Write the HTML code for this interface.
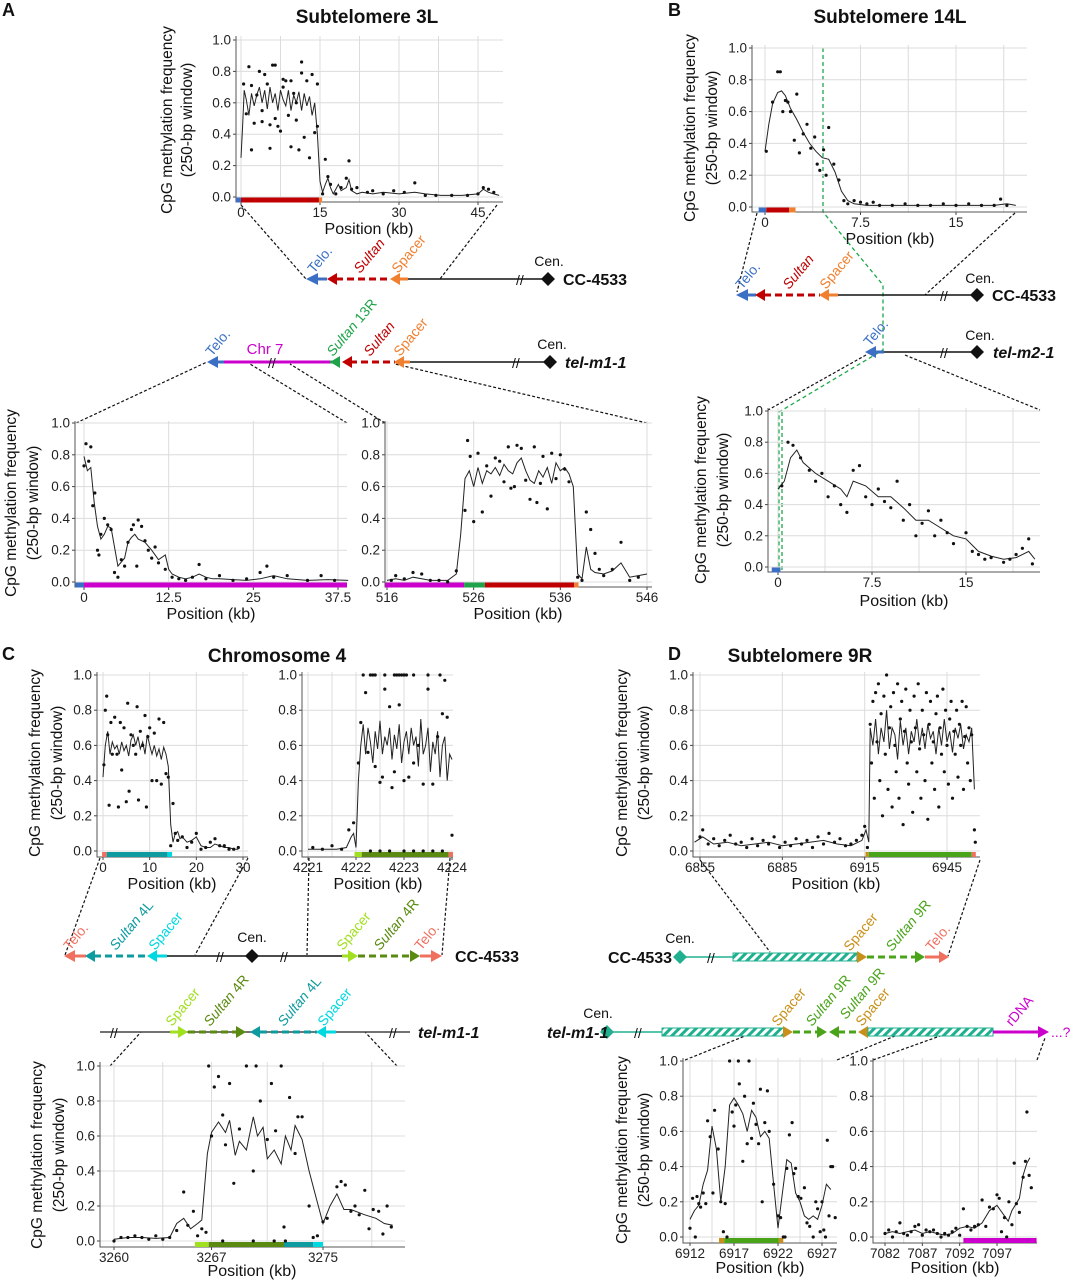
<!DOCTYPE html>
<html><head><meta charset="utf-8">
<style>
html,body{margin:0;padding:0;background:#fff;}
svg{display:block;font-family:"Liberation Sans",Arial,sans-serif;}
.tl{font-size:19px;font-weight:bold;fill:#111;}
.pl{font-size:18px;font-weight:bold;fill:#111;}
.al{font-size:16px;fill:#111;}
.yl{font-size:15.5px;fill:#111;}
.dl{font-size:14px;}
.nm{font-size:16px;font-weight:bold;fill:#111;}
.cen{font-size:14px;fill:#111;}
</style></head>
<body>
<svg id="fig" width="1073" height="1280" viewBox="0 0 1073 1280" xmlns="http://www.w3.org/2000/svg">
<defs>
<pattern id="hatch" width="6" height="6" patternUnits="userSpaceOnUse" patternTransform="rotate(45)">
<rect width="6" height="6" fill="#fff"/><rect width="3" height="6" fill="#20b090"/>
</pattern>
</defs>
<text class="pl" x="2" y="16">A</text>
<text class="pl" x="668" y="16">B</text>
<text class="pl" x="2" y="660">C</text>
<text class="pl" x="668" y="660">D</text>
<text class="tl" x="367" y="23" text-anchor="middle">Subtelomere 3L</text>
<text class="tl" x="890" y="23" text-anchor="middle">Subtelomere 14L</text>
<text class="tl" x="277" y="662" text-anchor="middle">Chromosome 4</text>
<text class="tl" x="800" y="662" text-anchor="middle">Subtelomere 9R</text>

<g class="yl" text-anchor="middle">
<text transform="translate(172,120) rotate(-90)">CpG methylation frequency</text>
<text transform="translate(192,120) rotate(-90)">(250-bp window)</text>
<text transform="translate(695,128) rotate(-90)">CpG methylation frequency</text>
<text transform="translate(717,128) rotate(-90)">(250-bp window)</text>
<text transform="translate(16,503) rotate(-90)">CpG methylation frequency</text>
<text transform="translate(38,503) rotate(-90)">(250-bp window)</text>
<text transform="translate(706,490) rotate(-90)">CpG methylation frequency</text>
<text transform="translate(728,490) rotate(-90)">(250-bp window)</text>
<text transform="translate(40,763) rotate(-90)">CpG methylation frequency</text>
<text transform="translate(62,763) rotate(-90)">(250-bp window)</text>
<text transform="translate(627,763) rotate(-90)">CpG methylation frequency</text>
<text transform="translate(649,763) rotate(-90)">(250-bp window)</text>
<text transform="translate(42,1155) rotate(-90)">CpG methylation frequency</text>
<text transform="translate(64,1155) rotate(-90)">(250-bp window)</text>
<text transform="translate(627,1150) rotate(-90)">CpG methylation frequency</text>
<text transform="translate(649,1150) rotate(-90)">(250-bp window)</text>
</g>
<g class="al" text-anchor="middle">
<text x="369" y="234">Position (kb)</text>
<text x="890" y="244">Position (kb)</text>
<text x="211" y="619">Position (kb)</text>
<text x="518" y="619">Position (kb)</text>
<text x="904" y="606">Position (kb)</text>
<text x="172" y="889">Position (kb)</text>
<text x="378" y="889">Position (kb)</text>
<text x="836" y="889">Position (kb)</text>
<text x="252" y="1276">Position (kb)</text>
<text x="760" y="1273">Position (kb)</text>
<text x="955" y="1273">Position (kb)</text>
</g>

<g stroke="#111" stroke-width="1.2" stroke-dasharray="3,2" fill="none">
<line x1="241" y1="205" x2="306" y2="279"/><line x1="497" y1="205" x2="440" y2="279"/>
<line x1="76" y1="423" x2="207" y2="362"/><line x1="347" y1="423" x2="250" y2="364"/>
<line x1="385" y1="423" x2="290" y2="364"/><line x1="647" y1="423" x2="395" y2="364"/>
<line x1="757" y1="213" x2="737" y2="292"/><line x1="1015" y1="213" x2="925" y2="295"/>
<line x1="866" y1="355" x2="768" y2="410"/><line x1="905" y1="355" x2="1040" y2="410"/>
<line x1="100" y1="858" x2="65" y2="955"/><line x1="248" y1="858" x2="195" y2="955"/>
<line x1="309" y1="858" x2="307" y2="955"/><line x1="450" y1="858" x2="442" y2="955"/>
<line x1="110" y1="1066" x2="141" y2="1032"/><line x1="397" y1="1066" x2="365" y2="1032"/>
<line x1="700" y1="860" x2="770" y2="952"/><line x1="980" y1="860" x2="948" y2="956"/>
<line x1="685" y1="1060" x2="745" y2="1036"/><line x1="837" y1="1060" x2="895" y2="1036"/>
<line x1="873" y1="1060" x2="940" y2="1036"/><line x1="1037" y1="1060" x2="1045" y2="1038"/>
</g>
<polyline points="823,48 823,212 883,285 883,350 779,412 779,572" fill="none" stroke="#1aa84a" stroke-width="1.3" stroke-dasharray="4,3"/>
<line x1="782" y1="412" x2="782" y2="572" stroke="#1aa84a" stroke-width="1.3" stroke-dasharray="4,3"/>

<g>
<line x1="408" y1="279" x2="548" y2="279" stroke="#111" stroke-width="1.5"/>
<line x1="316" y1="279" x2="327" y2="279" stroke="#3b6fc4" stroke-width="3"/><polygon points="306,279 318,273 318,285" fill="#3b6fc4"/>
<line x1="336" y1="279" x2="390" y2="279" stroke="#c00000" stroke-width="3" stroke-dasharray="7,4"/><polygon points="327,279 337,273 337,285" fill="#c00000"/>
<line x1="398" y1="279" x2="408" y2="279" stroke="#f08030" stroke-width="3"/><polygon points="390,279 400,273 400,285" fill="#f08030"/>
<text x="516" y="285" font-size="14" fill="#111">//</text>
<polygon points="548,272 555,279 548,286 541,279" fill="#111"/>
</g>
<text class="cen" x="549" y="266" text-anchor="middle">Cen.</text>
<text class="nm" x="563" y="285">CC-4533</text>
<text class="dl" fill="#3b6fc4" transform="translate(314,274) rotate(-50)">Telo.</text>
<text class="dl" fill="#c00000" font-style="italic" transform="translate(360,274) rotate(-50)">Sultan</text>
<text class="dl" fill="#f08030" transform="translate(398,274) rotate(-50)">Spacer</text>

<g>
<line x1="410" y1="362" x2="550" y2="362" stroke="#111" stroke-width="1.5"/>
<line x1="216" y1="362" x2="224" y2="362" stroke="#3b6fc4" stroke-width="3"/><polygon points="207,362 218,356 218,368" fill="#3b6fc4"/>
<line x1="224" y1="362" x2="330" y2="362" stroke="#cc00cc" stroke-width="3"/>
<text x="268" y="368" font-size="14" fill="#111">//</text>
<line x1="330" y1="362" x2="340" y2="362" stroke="#1fa34a" stroke-width="3"/><polygon points="330,362 340,356 340,368" fill="#1fa34a"/>
<line x1="350" y1="362" x2="395" y2="362" stroke="#c00000" stroke-width="3" stroke-dasharray="7,4"/><polygon points="342,362 352,356 352,368" fill="#c00000"/>
<line x1="402" y1="362" x2="410" y2="362" stroke="#f08030" stroke-width="3"/><polygon points="394,362 404,356 404,368" fill="#f08030"/>
<text x="512" y="368" font-size="14" fill="#111">//</text>
<polygon points="550,355 557,362 550,369 543,362" fill="#111"/>
</g>
<text font-size="15" fill="#cc00cc" x="265" y="354" text-anchor="middle">Chr 7</text>
<text class="cen" x="552" y="349" text-anchor="middle">Cen.</text>
<text class="nm" font-style="italic" x="565" y="368">tel-m1-1</text>
<text class="dl" fill="#3b6fc4" transform="translate(212,357) rotate(-50)">Telo.</text>
<text class="dl" fill="#1fa34a" transform="translate(333,357) rotate(-50)"><tspan font-style="italic">Sultan</tspan> 13R</text>
<text class="dl" fill="#c00000" font-style="italic" transform="translate(370,357) rotate(-50)">Sultan</text>
<text class="dl" fill="#f08030" transform="translate(400,357) rotate(-50)">Spacer</text>

<g>
<line x1="837" y1="295" x2="977" y2="295" stroke="#111" stroke-width="1.5"/>
<line x1="745" y1="295" x2="756" y2="295" stroke="#3b6fc4" stroke-width="3"/><polygon points="736,295 748,289 748,301" fill="#3b6fc4"/>
<line x1="764" y1="295" x2="820" y2="295" stroke="#c00000" stroke-width="3" stroke-dasharray="7,4"/><polygon points="755,295 765,289 765,301" fill="#c00000"/>
<line x1="828" y1="295" x2="838" y2="295" stroke="#f08030" stroke-width="3"/><polygon points="819,295 829,289 829,301" fill="#f08030"/>
<text x="940" y="301" font-size="14" fill="#111">//</text>
<polygon points="977,288 984,295 977,302 970,295" fill="#111"/>
<line x1="883" y1="352" x2="977" y2="352" stroke="#111" stroke-width="1.5"/>
<line x1="874" y1="352" x2="884" y2="352" stroke="#3b6fc4" stroke-width="3"/><polygon points="865,352 876,346 876,358" fill="#3b6fc4"/>
<text x="940" y="358" font-size="14" fill="#111">//</text>
<polygon points="977,345 984,352 977,359 970,352" fill="#111"/>
</g>
<text class="cen" x="980" y="283" text-anchor="middle">Cen.</text>
<text class="nm" x="992" y="301">CC-4533</text>
<text class="cen" x="980" y="340" text-anchor="middle">Cen.</text>
<text class="nm" font-style="italic" x="993" y="358">tel-m2-1</text>
<text class="dl" fill="#3b6fc4" transform="translate(742,290) rotate(-50)">Telo.</text>
<text class="dl" fill="#c00000" font-style="italic" transform="translate(789,290) rotate(-50)">Sultan</text>
<text class="dl" fill="#f08030" transform="translate(826,290) rotate(-50)">Spacer</text>
<text class="dl" fill="#3b6fc4" transform="translate(870,347) rotate(-50)">Telo.</text>

<g>
<line x1="167" y1="956" x2="342" y2="956" stroke="#111" stroke-width="1.5"/>
<line x1="72" y1="956" x2="86" y2="956" stroke="#f07060" stroke-width="3"/><polygon points="64,956 75,950 75,962" fill="#f07060"/>
<line x1="94" y1="956" x2="148" y2="956" stroke="#0d9ba0" stroke-width="3" stroke-dasharray="7,4"/><polygon points="85,956 95,950 95,962" fill="#0d9ba0"/>
<line x1="156" y1="956" x2="167" y2="956" stroke="#00d8e0" stroke-width="3"/><polygon points="147,956 157,950 157,962" fill="#00d8e0"/>
<text x="216" y="962" font-size="14" fill="#111">//</text>
<polygon points="252,949 259,956 252,963 245,956" fill="#111"/>
<text x="280" y="962" font-size="14" fill="#111">//</text>
<line x1="342" y1="956" x2="350" y2="956" stroke="#a0e020" stroke-width="3"/><polygon points="358,956 348,950 348,962" fill="#a0e020"/>
<line x1="358" y1="956" x2="412" y2="956" stroke="#5a8a10" stroke-width="3" stroke-dasharray="7,4"/><polygon points="420,956 410,950 410,962" fill="#5a8a10"/>
<line x1="420" y1="956" x2="434" y2="956" stroke="#f07060" stroke-width="3"/><polygon points="442,956 431,950 431,962" fill="#f07060"/>
<line x1="100" y1="1032" x2="410" y2="1032" stroke="#444" stroke-width="1.5"/>
<text x="110" y="1038" font-size="14" fill="#111">//</text>
<text x="389" y="1038" font-size="14" fill="#111">//</text>
<line x1="170" y1="1032" x2="180" y2="1032" stroke="#a0e020" stroke-width="3"/><polygon points="188,1032 178,1026 178,1038" fill="#a0e020"/>
<line x1="188" y1="1032" x2="238" y2="1032" stroke="#5a8a10" stroke-width="3" stroke-dasharray="7,4"/><polygon points="246,1032 236,1026 236,1038" fill="#5a8a10"/>
<line x1="260" y1="1032" x2="317" y2="1032" stroke="#0d9ba0" stroke-width="3" stroke-dasharray="7,4"/><polygon points="250,1032 260,1026 260,1038" fill="#0d9ba0"/>
<line x1="326" y1="1032" x2="336" y2="1032" stroke="#00d8e0" stroke-width="3"/><polygon points="316,1032 326,1026 326,1038" fill="#00d8e0"/>
</g>
<text class="cen" x="252" y="942" text-anchor="middle">Cen.</text>
<text class="nm" x="455" y="962">CC-4533</text>
<text class="nm" font-style="italic" x="418" y="1038">tel-m1-1</text>
<text class="dl" fill="#f07060" transform="translate(70,951) rotate(-50)">Telo.</text>
<text class="dl" fill="#0d9ba0" transform="translate(116,951) rotate(-50)"><tspan font-style="italic">Sultan</tspan> 4L</text>
<text class="dl" fill="#00d8e0" transform="translate(155,951) rotate(-50)">Spacer</text>
<text class="dl" fill="#a0e020" transform="translate(343,951) rotate(-50)">Spacer</text>
<text class="dl" fill="#5a8a10" transform="translate(380,951) rotate(-50)"><tspan font-style="italic">Sultan</tspan> 4R</text>
<text class="dl" fill="#f07060" transform="translate(421,951) rotate(-50)">Telo.</text>
<text class="dl" fill="#a0e020" transform="translate(172,1027) rotate(-50)">Spacer</text>
<text class="dl" fill="#5a8a10" transform="translate(210,1027) rotate(-50)"><tspan font-style="italic">Sultan</tspan> 4R</text>
<text class="dl" fill="#0d9ba0" transform="translate(284,1027) rotate(-50)"><tspan font-style="italic">Sultan</tspan> 4L</text>
<text class="dl" fill="#00d8e0" transform="translate(324,1027) rotate(-50)">Spacer</text>

<g>
<line x1="680" y1="957" x2="733" y2="957" stroke="#20b090" stroke-width="1.5"/>
<polygon points="680,950 687,957 680,964 673,957" fill="#20b090"/>
<text x="707" y="963" font-size="14" fill="#111">//</text>
<rect x="733" y="953" width="124" height="8" fill="url(#hatch)" stroke="#20b090" stroke-width="1"/>
<line x1="857" y1="957" x2="862" y2="957" stroke="#c8901a" stroke-width="3"/><polygon points="867,957 857,951 857,963" fill="#c8901a"/>
<line x1="867" y1="957" x2="918" y2="957" stroke="#4aa41a" stroke-width="3" stroke-dasharray="7,4"/><polygon points="925,957 915,951 915,963" fill="#4aa41a"/>
<line x1="925" y1="957" x2="942" y2="957" stroke="#f07060" stroke-width="3"/><polygon points="949,957 939,951 939,963" fill="#f07060"/>
<line x1="607" y1="1032" x2="662" y2="1032" stroke="#20b090" stroke-width="1.5"/>
<polygon points="607,1025 614,1032 607,1039 600,1032" fill="#20b090"/>
<text x="634" y="1038" font-size="14" fill="#111">//</text>
<rect x="662" y="1028" width="123" height="8" fill="url(#hatch)" stroke="#20b090" stroke-width="1"/>
<line x1="785" y1="1032" x2="788" y2="1032" stroke="#c8901a" stroke-width="3"/><polygon points="793,1032 783,1026 783,1038" fill="#c8901a"/>
<line x1="793" y1="1032" x2="822" y2="1032" stroke="#4aa41a" stroke-width="3" stroke-dasharray="7,4"/><polygon points="827,1032 817,1026 817,1038" fill="#4aa41a"/>
<line x1="838" y1="1032" x2="858" y2="1032" stroke="#4aa41a" stroke-width="3" stroke-dasharray="7,4"/><polygon points="829,1032 839,1026 839,1038" fill="#4aa41a"/>
<polygon points="858,1032 868,1026 868,1038" fill="#c8901a"/>
<rect x="868" y="1028" width="125" height="8" fill="url(#hatch)" stroke="#20b090" stroke-width="1"/>
<line x1="993" y1="1032" x2="1040" y2="1032" stroke="#cc00cc" stroke-width="3"/><polygon points="1049,1032 1038,1026 1038,1038" fill="#cc00cc"/>
</g>
<text class="cen" x="680" y="943" text-anchor="middle">Cen.</text>
<text class="nm" x="608" y="963">CC-4533</text>
<text class="cen" x="598" y="1018" text-anchor="middle">Cen.</text>
<text class="nm" font-style="italic" x="547" y="1038">tel-m1-1</text>
<text font-size="14" fill="#cc00cc" x="1051" y="1037">...?</text>
<text class="dl" fill="#c8901a" transform="translate(850,952) rotate(-50)">Spacer</text>
<text class="dl" fill="#4aa41a" transform="translate(892,952) rotate(-50)"><tspan font-style="italic">Sultan</tspan> 9R</text>
<text class="dl" fill="#f07060" transform="translate(932,952) rotate(-50)">Telo.</text>
<text class="dl" fill="#c8901a" transform="translate(778,1027) rotate(-50)">Spacer</text>
<text class="dl" fill="#4aa41a" transform="translate(812,1027) rotate(-50)"><tspan font-style="italic">Sultan</tspan> 9R</text>
<text class="dl" fill="#4aa41a" transform="translate(846,1020) rotate(-50)"><tspan font-style="italic">Sultan</tspan> 9R</text>
<text class="dl" fill="#c8901a" transform="translate(862,1027) rotate(-50)">Spacer</text>
<text class="dl" fill="#cc00cc" transform="translate(1012,1027) rotate(-50)">rDNA</text>

<g id="plots"></g>
</svg>

<script>
const a1LineX=[0,0.3,0.6,1,1.5,2,2.5,3,3.5,4,4.5,5,5.5,6,6.5,7,7.5,8,8.5,9,9.5,10,10.5,11,11.5,12,12.5,13,13.5,14,14.5,15,15.5,16,16.5,17,17.5,18,18.5,19,20,20.5,21,22,23,25,27,30,33,35,38,42,45,46,47,48,49];
const a1LineY=[.25,.45,.68,.62,.52,.66,.58,.65,.7,.6,.68,.56,.7,.6,.66,.55,.68,.62,.58,.68,.55,.65,.6,.67,.55,.66,.58,.64,.52,.6,.4,.1,.03,.08,.12,.06,.02,.05,.08,.04,.06,.11,.04,.02,.03,.02,.03,.02,.03,.02,.01,.01,.02,.05,.03,.02,.01];
const a1DotX=[0.5,1,1.5,2,2,2.5,3,3.5,4,4,4.5,5,5.5,5.5,6,6.5,6.5,7,7.5,8,8,8.5,9,9.5,9.5,10,10.5,10.5,11,11.5,11.5,12,12.5,13,13.5,14,14.5,14.5,15.5,16,16.5,17,18,19,20,20.5,21,22,24,25,27,29,31,33,35,37,40,43,45,46,47,48];
const a1DotY=[.72,.53,.83,.3,.71,.47,.65,.8,.55,.48,.78,.72,.46,.31,.84,.84,.5,.45,.42,.75,.7,.74,.52,.74,.32,.66,.49,.6,.3,.86,.79,.38,.74,.25,.78,.41,.72,.45,.02,.24,.13,.08,.02,.06,.12,.23,.05,.06,.03,.04,.02,.04,.03,.09,.01,.01,.01,.01,.02,.06,.05,.03];
const a1SegStart=[-1.2,0,14.8], a1SegEnd=[0,14.8,15.4], a1SegColor=['#3b6fc4','#c00000','#f08030'];

const a2LineX=[0,0.5,1,1.5,2,2.5,3,3.5,4,5,6,6.5,7,7.5,8,9,10,11,12,12.5,13,14,15,16,17,18,19,20,22,24,26,28,30,33,36,39];
const a2LineY=[.79,.7,.72,.5,.35,.27,.3,.35,.34,.1,.15,.25,.28,.3,.27,.25,.2,.14,.17,.08,.05,.03,.02,.03,.05,.03,.02,.02,.015,.01,.02,.04,.02,.01,.015,.01];
const a2DotX=[0,0.3,0.7,1,1.3,1.6,2,2.2,2.5,3,3.5,4,4.5,5,5.5,6,6.5,7,7.3,7.8,8,8.5,9,9.5,10,10.5,11,12,13,14,15,16,17,18,20,22,24,26,27,28,30,33,35,37];
const a2DotY=[.73,.87,.76,.85,.48,.56,.2,.17,.3,.4,.36,.33,.06,.03,.14,.1,.25,.33,.36,.1,.39,.35,.26,.2,.15,.22,.12,.08,.03,.02,.01,.03,.11,.02,.04,.01,.02,.06,.1,.03,.04,.01,.04,.01];
const a2SegStart=[-1.3,0], a2SegEnd=[0,39.6], a2SegColor=['#3b6fc4','#cc00cc'];

const a3LineX=[516,517,518,519,520,521,522,523,524,524.5,525,525.5,526,526.5,527,527.5,528,528.5,529,529.5,530,530.5,531,531.5,532,532.5,533,533.5,534,534.5,535,535.5,536,536.5,537,537.5,538,538.5,539,539.5,540,541,542,543,544,545,546];
const a3LineY=[.01,.02,.01,.03,.02,.01,.01,.01,.05,.3,.65,.7,.6,.72,.62,.7,.68,.72,.67,.74,.7,.68,.75,.78,.7,.64,.62,.7,.66,.72,.62,.75,.7,.72,.68,.6,.05,.02,.22,.08,.06,.05,.07,.12,.03,.04,.05];
const a3DotX=[516.5,517,518,519,520,521,522,523,524,525,525.3,525.6,526,526.5,527,527.5,528,528.5,529,529.5,530,530.3,530.7,531,531.5,532,532.5,533,533.3,533.7,534,534.5,535,535.5,536,536.5,537,538,538.5,539,539.5,540,540.5,541,542,543,544,545];
const a3DotY=[.01,.04,.02,.06,.05,.01,.01,0,.07,.45,.89,.79,.38,.81,.44,.73,.54,.78,.76,.63,.85,.59,.6,.86,.84,.64,.52,.85,.5,.62,.79,.46,.81,.65,.8,.71,.63,.03,.01,.44,.33,.18,.08,.04,.08,.25,.01,.03];
const a3SegStart=[515.8,524.9,527.3,537.6], a3SegEnd=[524.9,527.3,537.6,538.1], a3SegColor=['#cc00cc','#1fa34a','#c00000','#f08030'];

const b1LineX=[0,0.3,0.6,1,1.3,1.6,2,2.5,3,3.5,4,4.5,5,5.5,6,6.5,7,8,9,10,12,14,16,18,19,19.7];
const b1LineY=[.35,.52,.65,.72,.73,.7,.62,.55,.47,.4,.35,.31,.3,.22,.1,.04,.02,.01,.01,.01,.01,.01,.01,.01,.02,.01];
const b1DotX=[0.1,0.6,1,1.2,1.4,1.6,1.8,2,2.3,2.5,2.7,3,3.3,3.6,3.9,4.1,4.3,4.6,4.8,5,5.4,5.8,6.2,6.5,7,7.5,8,8.5,9,10,11,12,13,14,15,16,17,18,18.5,19];
const b1DotY=[.35,.66,.85,.85,.6,.67,.66,.6,.42,.71,.34,.46,.52,.37,.44,.27,.23,.36,.2,.5,.27,.17,.04,.02,.04,.03,.02,.03,.01,.01,.02,.01,.01,.02,.01,.02,.01,.01,.05,.01];
const b1SegStart=[-0.5,0.1,1.9], b1SegEnd=[0.1,1.9,2.4], b1SegColor=['#3b6fc4','#c00000','#f08030'];

const b2LineX=[0,0.5,1,1.5,2,3,4,5,5.5,6,7,8,9,10,11,12,13,14,15,16,17,18,19,20,20.5];
const b2LineY=[.5,.55,.7,.75,.67,.6,.55,.5,.45,.55,.52,.45,.45,.38,.3,.3,.25,.2,.18,.1,.07,.05,.06,.1,.05];
const b2DotX=[0.3,0.8,1.2,1.8,2.5,3,3.5,4,4.5,5,5.5,6,6.5,7,7.5,8,8.5,9,9.5,10,10.5,11,11.5,12,12.5,13,13.5,14,15,15.5,16,16.5,17,18,18.5,19,19.5,20,20.3];
const b2DotY=[.52,.8,.78,.7,.62,.55,.6,.45,.52,.4,.35,.62,.65,.45,.4,.5,.42,.38,.55,.3,.4,.2,.28,.36,.2,.3,.22,.15,.22,.1,.08,.05,.06,.03,.05,.08,.12,.18,.02];
const b2SegStart=[-0.5], b2SegEnd=[0.2], b2SegColor=['#3b6fc4'];

const c1LineX=[0,0.5,1,1.5,2,2.5,3,3.5,4,4.5,5,5.5,6,6.5,7,7.5,8,8.5,9,9.5,10,10.5,11,11.5,12,12.5,13,13.5,14,14.5,15,15.5,16,16.5,17,18,19,20,21,22,23,24,25,26,27,28,29];
const c1LineY=[.42,.6,.68,.55,.62,.58,.6,.55,.62,.57,.6,.54,.63,.66,.6,.65,.58,.62,.55,.66,.6,.55,.6,.54,.58,.52,.59,.55,.48,.15,.05,.1,.11,.07,.08,.05,.06,.08,.03,.02,.02,.04,.03,.02,.02,.01,.01];
const c1DotX=[0.2,0.5,0.8,1,1.3,1.7,2,2.5,3,3.3,3.7,4,4.5,5,5.3,5.6,6,6.5,7,7.3,7.6,8,8.5,9,9.3,9.6,10,10.5,11,11.5,12,12.5,13,13.5,14,14.5,15,15.5,16,17,18,19,20,21,22,23,24,25,26,27,28,29];
const c1DotY=[.49,.8,.88,.66,.26,.73,.55,.76,.55,.25,.73,.46,.7,.28,.84,.34,.66,.6,.55,.82,.29,.68,.6,.77,.25,.65,.7,.4,.67,.4,.75,.38,.73,.44,.42,.03,.27,.1,.06,.08,.02,.05,.1,.01,.02,.05,.07,.03,.03,.01,.01,.02];
const c1SegStart=[-0.2,0.8,13.8], c1SegEnd=[0.8,13.8,14.8], c1SegColor=['#f07060','#0d9ba0','#00d8e0'];

const c2LineX=[4221,4221.2,4221.4,4221.6,4221.8,4221.9,4221.95,4222,4222.05,4222.1,4222.15,4222.2,4222.25,4222.3,4222.35,4222.4,4222.45,4222.5,4222.55,4222.6,4222.65,4222.7,4222.75,4222.8,4222.85,4222.9,4222.95,4223,4223.05,4223.1,4223.15,4223.2,4223.25,4223.3,4223.35,4223.4,4223.45,4223.5,4223.55,4223.6,4223.65,4223.7,4223.75,4223.8,4223.85,4223.9,4223.95,4224];
const c2LineY=[.01,.01,.01,.01,.02,.08,.1,.02,.4,.6,.72,.55,.7,.62,.5,.68,.58,.74,.55,.65,.6,.7,.52,.66,.58,.72,.5,.62,.68,.55,.7,.6,.65,.48,.75,.55,.6,.7,.45,.62,.55,.68,.42,.6,.65,.4,.55,.52];
const c2DotX=[4222.15,4222.3,4222.35,4222.4,4222.6,4222.8,4222.85,4222.9,4222.95,4223,4223.05,4223.2,4223.5,4223.75,4223.85,4221.1,4221.3,4221.5,4221.7,4221.85,4221.95,4222.05,4222.1,4222.2,4222.25,4222.4,4222.5,4222.55,4222.6,4222.7,4222.75,4222.8,4222.9,4223,4223.1,4223.2,4223.3,4223.4,4223.5,4223.6,4223.7,4223.8,4223.9,4224,4222.3,4222.5,4222.7,4223,4223.2,4223.4,4223.6,4223.8];
const c2DotY=[1,1,1,1,1,1,1,1,1,1,1,1,1,1,.97,.02,.01,.03,.01,.12,.16,.5,.73,.9,.56,.48,.39,.42,.92,.82,.36,.45,.83,.4,.42,.5,.6,.38,.92,.38,.65,.78,.76,.09,0,0,0,0,0,0,0,0];
const c2SegStart=[4221.97,4222.12,4223.93], c2SegEnd=[4222.12,4223.93,4224.05], c2SegColor=['#a0e020','#5a8a10','#f07060'];

const c3LineX=[3260,3261,3262,3263,3264,3264.5,3265,3265.5,3266,3266.3,3266.7,3267,3267.5,3268,3268.3,3268.7,3269,3269.5,3270,3270.3,3270.7,3271,3271.5,3272,3272.3,3272.7,3273,3273.5,3274,3274.5,3275,3275.5,3276,3276.5,3277,3278,3278.8,3279.4,3280];
const c3LineY=[.01,.02,.02,.015,.02,.1,.13,.07,.1,.12,.5,.62,.68,.62,.69,.49,.57,.52,.71,.6,.65,.47,.52,.44,.6,.52,.66,.58,.4,.25,.1,.2,.27,.18,.18,.15,.13,.1,.09];
const c3DotX=[3260,3260.5,3261,3261.5,3262,3262.5,3263,3263.5,3264,3264.5,3265,3265.3,3265.7,3266,3266.3,3266.6,3266.8,3267,3267.2,3267.5,3267.8,3268,3268.3,3268.6,3269,3269.5,3270,3270.2,3270.5,3271,3271.3,3271.6,3272,3272.2,3272.6,3273,3273.2,3273.5,3274,3274.3,3274.6,3275,3275.3,3276,3276.3,3276.6,3277,3277.3,3277.6,3278,3278.3,3278.6,3279,3279.3,3279.6,3279.9,3267.8,3270,3271.5,3272.3];
const c3DotY=[0,.02,.02,.03,.02,.01,.03,.01,.02,.06,.28,.09,.17,.03,.07,.05,1,.6,.88,.94,.72,.55,.9,.33,.64,1,.4,1,.8,.58,.9,.63,1,.08,.82,.5,.71,.71,.2,.02,.03,.11,.13,.31,.34,.32,.17,.2,.15,.29,.07,.18,.17,.04,.2,.08,0,0,0,0];
const c3SegStart=[3265.8,3266.8,3272.2,3274.3], c3SegEnd=[3266.8,3272.2,3274.3,3275], c3SegColor=['#a0e020','#5a8a10','#0d9ba0','#00d8e0'];

const d1LineX=[6853,6856,6860,6865,6870,6875,6880,6885,6890,6895,6900,6905,6910,6914,6915.5,6916.5,6917,6918,6919,6920,6921,6922,6923,6924,6925,6926,6927,6928,6929,6930,6931,6932,6933,6934,6935,6936,6937,6938,6939,6940,6941,6942,6943,6944,6945,6946,6947,6948,6949,6950,6951,6952,6953,6954,6955];
const d1LineY=[.05,.08,.04,.05,.03,.04,.05,.03,.04,.05,.06,.04,.03,.06,.12,.05,.7,.6,.75,.55,.7,.62,.8,.58,.7,.66,.52,.74,.6,.7,.55,.68,.62,.75,.6,.7,.58,.72,.64,.68,.55,.7,.6,.75,.62,.68,.56,.7,.64,.72,.58,.66,.62,.7,.35];
const d1DotX=[6855,6856,6858,6860,6862,6864,6866,6868,6870,6872,6874,6876,6878,6880,6882,6884,6886,6888,6890,6892,6894,6896,6898,6900,6902,6904,6906,6908,6910,6912,6914,6915,6916,6917,6917.5,6918,6918.5,6919,6919.5,6920,6920.5,6921,6921.5,6922,6922.5,6923,6923.5,6924,6924.5,6925,6925.5,6926,6926.5,6927,6927.5,6928,6928.5,6929,6929.5,6930,6930.5,6931,6931.5,6932,6932.5,6933,6933.5,6934,6934.5,6935,6935.5,6936,6936.5,6937,6937.5,6938,6938.5,6939,6939.5,6940,6940.5,6941,6941.5,6942,6942.5,6943,6943.5,6944,6944.5,6945,6945.5,6946,6946.5,6947,6947.5,6948,6948.5,6949,6949.5,6950,6950.5,6951,6951.5,6952,6952.5,6953,6953.5,6954,6955,6955.3];
const d1DotY=[.08,.12,.04,.07,.03,.06,.09,.04,.05,.02,.07,.03,.06,.04,.08,.02,.05,.03,.07,.04,.06,.02,.08,.04,.1,.05,.07,.03,.04,.06,.09,.14,.02,.72,.5,.85,.3,.9,.62,.95,.4,.78,.2,.88,.55,1,.35,.7,.82,.25,.9,.6,.45,.95,.3,.75,.85,.15,.68,.92,.5,.38,.8,.62,.22,.88,.7,.45,.95,.58,.3,.8,.66,.4,.9,.18,.72,.85,.5,.62,.35,.78,.88,.25,.7,.55,.92,.45,.8,.6,.38,.75,.85,.3,.68,.55,.8,.42,.72,.6,.85,.35,.65,.82,.5,.7,.4,.66,.12,.05];
const d1SegStart=[6915.3,6916.5,6954], d1SegEnd=[6916.5,6954,6955.5], d1SegColor=['#c8901a','#4aa41a','#f07060'];

const d2LineX=[6912,6912.5,6913,6913.5,6914,6914.5,6915,6915.5,6916,6916.5,6917,6917.5,6918,6918.5,6919,6919.5,6920,6920.5,6921,6921.5,6922,6922.5,6923,6923.5,6924,6924.5,6925,6925.5,6926,6926.5,6927,6927.5,6928];
const d2LineY=[.1,.15,.18,.3,.38,.63,.5,.2,.4,.75,.79,.75,.7,.6,.72,.68,.57,.6,.56,.3,.05,.25,.44,.42,.25,.2,.12,.1,.12,.1,.18,.3,.27];
const d2DotX=[6912,6912.3,6912.6,6912.8,6913,6913.2,6913.5,6913.8,6914,6914.3,6914.6,6914.8,6915.2,6915.5,6915.8,6916,6916.2,6916.5,6916.8,6917,6917.2,6917.5,6917.6,6918,6918.2,6918.5,6918.7,6919,6919.2,6919.5,6919.8,6920,6920.2,6920.5,6920.8,6921,6921.5,6922,6922.3,6922.6,6922.8,6923,6923.3,6923.6,6923.8,6924,6924.3,6924.6,6925,6925.3,6925.6,6926,6926.3,6926.5,6926.8,6927,6927.2,6927.4,6927.6,6927.8,6928,6928.2,6928.5];
const d2DotY=[.05,.22,0,.23,.19,.17,.25,.19,.66,.57,.25,.72,.5,.2,.03,.19,0,1,.71,.63,.75,1,.87,.43,.8,.53,1,.56,.76,.64,.53,.84,.2,.65,.83,.6,.3,.12,.11,0,0,.39,.58,.65,.36,.39,.23,.22,.28,.08,.06,0,.2,.16,.03,.2,.04,0,.55,.12,.4,.4,.11];
const d2SegStart=[6915.3,6915.9,6922.1], d2SegEnd=[6915.9,6922.1,6922.6], d2SegColor=['#c8901a','#4aa41a','#c8901a'];

const d3LineX=[7082,7083,7084,7085,7086,7087,7088,7089,7090,7091,7092,7093,7094,7095,7096,7097,7097.5,7098,7098.5,7099,7100,7100.5,7101,7101.4];
const d3LineY=[.02,.03,.02,.03,.04,.02,.03,.02,.01,.02,.05,.06,.05,.08,.15,.18,.15,.12,.09,.15,.22,.35,.42,.45];
const d3DotX=[7082,7082.5,7083,7083.5,7084,7084.5,7085,7085.5,7086,7086.5,7087,7087.5,7088,7088.5,7089,7089.5,7090,7090.5,7091,7091.5,7092,7092.5,7093,7093.5,7094,7094.5,7095,7095.5,7096,7096.5,7097,7097.3,7097.6,7098,7098.3,7098.6,7099,7099.3,7099.6,7100,7100.5,7100.8,7101,7101.3,7101.6];
const d3DotY=[.02,.04,0,.03,.08,.02,.01,.03,.06,.07,.01,.04,.03,.04,.02,0,.02,.01,.03,.05,.01,.16,.06,.04,.06,.07,.21,.06,.17,.16,.24,.22,.03,.11,0,.2,.07,.42,.19,.14,.34,.43,.71,.35,.28];
const d3SegStart=[7092.5], d3SegEnd=[7102.3], d3SegColor=['#cc00cc'];

const tickA1=[0,15,30,45], tickA1Labels=['0','15','30','45'];
const tickA2=[0,12.5,25,37.5], tickA2Labels=['0','12.5','25','37.5'];
const tickA3=[516,526,536,546], tickA3Labels=['516','526','536','546'];
const tickB=[0,7.5,15], tickBLabels=['0','7.5','15'];
const tickC1=[0,10,20,30], tickC1Labels=['0','10','20','30'];
const tickC2=[4221,4222,4223,4224], tickC2Labels=['4221','4222','4223','4224'];
const tickC3=[3260,3267,3275], tickC3Labels=['3260','3267','3275'];
const tickD1=[6855,6885,6915,6945], tickD1Labels=['6855','6885','6915','6945'];
const tickD2=[6912,6917,6922,6927], tickD2Labels=['6912','6917','6922','6927'];
const tickD3=[7082,7087,7092,7097], tickD3Labels=['7082','7087','7092','7097'];
const yTicks=[0,0.2,0.4,0.6,0.8,1.0], yTickLabels=['0.0','0.2','0.4','0.6','0.8','1.0'];

const NS='http://www.w3.org/2000/svg';
const root=document.getElementById('plots');
function mk(tag,attrs,parent){const e=document.createElementNS(NS,tag);for(const k in attrs)e.setAttribute(k,attrs[k]);(parent||root).appendChild(e);return e;}

function drawPlot(id,box,xa,ya,ticks,tickLabels,grid2,lx,ly,dx,dy,ss,se,sc){
  const g=mk('g',{});
  
  
  const sx=v=>xa[1]+(v-xa[0])*(xa[3]-xa[1])/(xa[2]-xa[0]);
  const sy=v=>ya[0]+(ya[1]-ya[0])*v;
  yTicks.forEach((t,i)=>{
    const gl=mk('line',{x1:box[0],x2:box[1],y1:sy(t),y2:sy(t),stroke:'#dcdcdc','stroke-width':1},g);
    
    
    const tl=mk('text',{x:box[0]-5,y:sy(t)+4.5,'text-anchor':'end','font-size':13.5,fill:'#222'},g);
    tl.textContent=yTickLabels[i];
    
    
    mk('line',{x1:box[0]-3,x2:box[0],y1:sy(t),y2:sy(t),stroke:'#444'},g);
  });
  const gv=ticks.slice();
  if(grid2){for(let i=0;i<ticks.length-1;i++)gv.push((ticks[i]+ticks[i+1])/2);gv.push(ticks[ticks.length-1]+(ticks[1]-ticks[0])/2);gv.push(ticks[0]-(ticks[1]-ticks[0])/2);}
  gv.forEach(t=>{const px=sx(t);if(px>box[0]+1&&px<box[1]-1){
    const vl=mk('line',{x1:px,x2:px,y1:box[2],y2:box[3],stroke:'#dcdcdc','stroke-width':1},g);
    
    
  }});
  ticks.forEach((t,i)=>{
    const tl=mk('text',{x:sx(t),y:box[3]+15,'text-anchor':'middle','font-size':13.5,fill:'#222'},g);
    tl.textContent=tickLabels[i];
    
    
    mk('line',{x1:sx(t),x2:sx(t),y1:box[3],y2:box[3]+3,stroke:'#444'},g);
  });
  const ax=mk('path',{d:`M${box[0]},${box[2]}V${box[3]}H${box[1]}`,fill:'none',stroke:'#555','stroke-width':1},g);
  
  
  const by=(sy(0)+box[3])/2+0.5;
  ss.forEach((s,i)=>{
    const seg=mk('line',{x1:Math.max(box[0],sx(s)),x2:Math.min(box[1],sx(se[i])),y1:by,y2:by,stroke:sc[i],'stroke-width':5},g);
    
    
  });
  let d='';lx.forEach((x,i)=>{d+=(i?'L':'M')+sx(x).toFixed(1)+','+sy(ly[i]).toFixed(1);});
  const ln=mk('path',{d:d,fill:'none',stroke:'#222','stroke-width':1},g);
  
  
  dx.forEach((x,i)=>{
    const c=mk('circle',{cx:sx(x).toFixed(1),cy:sy(dy[i]).toFixed(1),r:1.6,fill:'#111'},g);
    
    
  });
}
drawPlot('a1',[236,503,36,202],[0,241,45,478],[197,40],tickA1,tickA1Labels,true,a1LineX,a1LineY,a1DotX,a1DotY,a1SegStart,a1SegEnd,a1SegColor);
drawPlot('b1',[752,1027,45,212],[0,765,15,956],[207,48],tickB,tickBLabels,true,b1LineX,b1LineY,b1DotX,b1DotY,b1SegStart,b1SegEnd,b1SegColor);
drawPlot('a2',[75,347,421,587],[0,84,37.5,338],[582,423],tickA2,tickA2Labels,false,a2LineX,a2LineY,a2DotX,a2DotY,a2SegStart,a2SegEnd,a2SegColor);
drawPlot('a3',[385,652,421,587],[516,387,546,647],[582,423],tickA3,tickA3Labels,false,a3LineX,a3LineY,a3DotX,a3DotY,a3SegStart,a3SegEnd,a3SegColor);
drawPlot('b2',[768,1040,408,572],[0,778,15,966],[567,411],tickB,tickBLabels,true,b2LineX,b2LineY,b2DotX,b2DotY,b2SegStart,b2SegEnd,b2SegColor);
drawPlot('c1',[97,248,672,857],[0,103,30,243],[851,675],tickC1,tickC1Labels,false,c1LineX,c1LineY,c1DotX,c1DotY,c1SegStart,c1SegEnd,c1SegColor);
drawPlot('c2',[302,453,672,857],[4221,308,4224,452],[851,675],tickC2,tickC2Labels,true,c2LineX,c2LineY,c2DotX,c2DotY,c2SegStart,c2SegEnd,c2SegColor);
drawPlot('d1',[693,980,672,857],[6855,700,6945,947],[851,675],tickD1,tickD1Labels,false,d1LineX,d1LineY,d1DotX,d1DotY,d1SegStart,d1SegEnd,d1SegColor);
drawPlot('c3',[100,405,1062,1247],[3260,114,3275,323],[1241,1066],tickC3,tickC3Labels,true,c3LineX,c3LineY,c3DotX,c3DotY,c3SegStart,c3SegEnd,c3SegColor);
drawPlot('d2',[683,837,1058,1243],[6912,690,6927,822],[1237,1061],tickD2,tickD2Labels,true,d2LineX,d2LineY,d2DotX,d2DotY,d2SegStart,d2SegEnd,d2SegColor);
drawPlot('d3',[873,1037,1058,1243],[7082,885,7097,997],[1237,1061],tickD3,tickD3Labels,true,d3LineX,d3LineY,d3DotX,d3DotY,d3SegStart,d3SegEnd,d3SegColor);
</script>
</body></html>
